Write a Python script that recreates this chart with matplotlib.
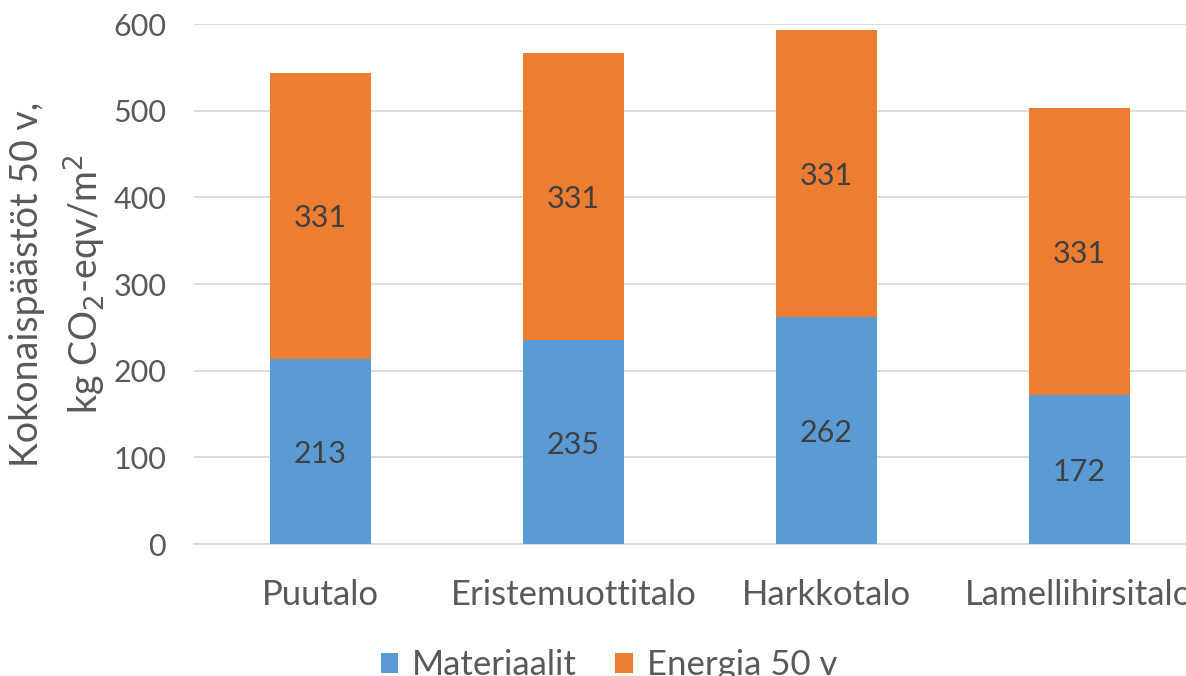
import numpy as np
import matplotlib.pyplot as plt

plt.rcParams['font.family'] = ['Lato', 'DejaVu Sans']

talot = ["Puutalo", "Eristemuottitalo", "Harkkotalo", "Lamellihirsitalo"]
materiaalit = [213, 235, 262, 172]
energia = [331, 331, 331, 331]

sininen = "#5B9BD5"
oranssi = "#ED7D31"
harmaa = "#595959"

fig = plt.figure(figsize=(11.86, 6.76), dpi=100)
# axes deliberately runs past the right edge like in the original
ax = fig.add_axes([194 / 1186, 1 - 544 / 676, 1012 / 1186, 520 / 676])

x = np.arange(len(talot))
b1 = ax.bar(x, materiaalit, 0.4, color=sininen, label="Materiaalit", zorder=3)
b2 = ax.bar(x, energia, 0.4, bottom=materiaalit, color=oranssi, label="Energia 50 v", zorder=3)

for i in range(len(talot)):
    ax.text(x[i], materiaalit[i] / 2, str(materiaalit[i]), ha="center", va="center_baseline",
            fontsize=22, color="#404040", zorder=4)
    ax.text(x[i], materiaalit[i] + energia[i] / 2, str(energia[i]), ha="center",
            va="center_baseline", fontsize=22, color="#404040", zorder=4)

ax.set_xlim(-0.5, 3.5)
ax.set_ylim(0, 600)
ax.set_yticks(range(0, 601, 100))
ax.set_xticks(x)
ax.set_xticklabels(talot)
ax.tick_params(axis="both", length=0, colors=harmaa)
ax.tick_params(axis="x", pad=25, labelsize=25)
ax.tick_params(axis="y", pad=20, labelsize=22)
ax.grid(axis="y", color="#D9D9D9", linewidth=1.3, zorder=0)
for s in ["top", "right", "left"]:
    ax.spines[s].set_visible(False)
ax.spines["bottom"].set_color("#D9D9D9")
ax.spines["bottom"].set_linewidth(1.3)

ax.set_ylabel("Kokonaispäästöt 50 v,\nkg CO$_2$-eqv/m$^2$", fontsize=27, color=harmaa,
              linespacing=1.45, labelpad=4)

fig.legend(loc="center", bbox_to_anchor=(609 / 1186, 1 - 665 / 676), ncol=2, frameon=False,
           fontsize=25, handlelength=0.5, handleheight=0.5, handletextpad=0.4,
           columnspacing=1.1, labelcolor=harmaa)

fig.savefig("out.png", dpi=100)
